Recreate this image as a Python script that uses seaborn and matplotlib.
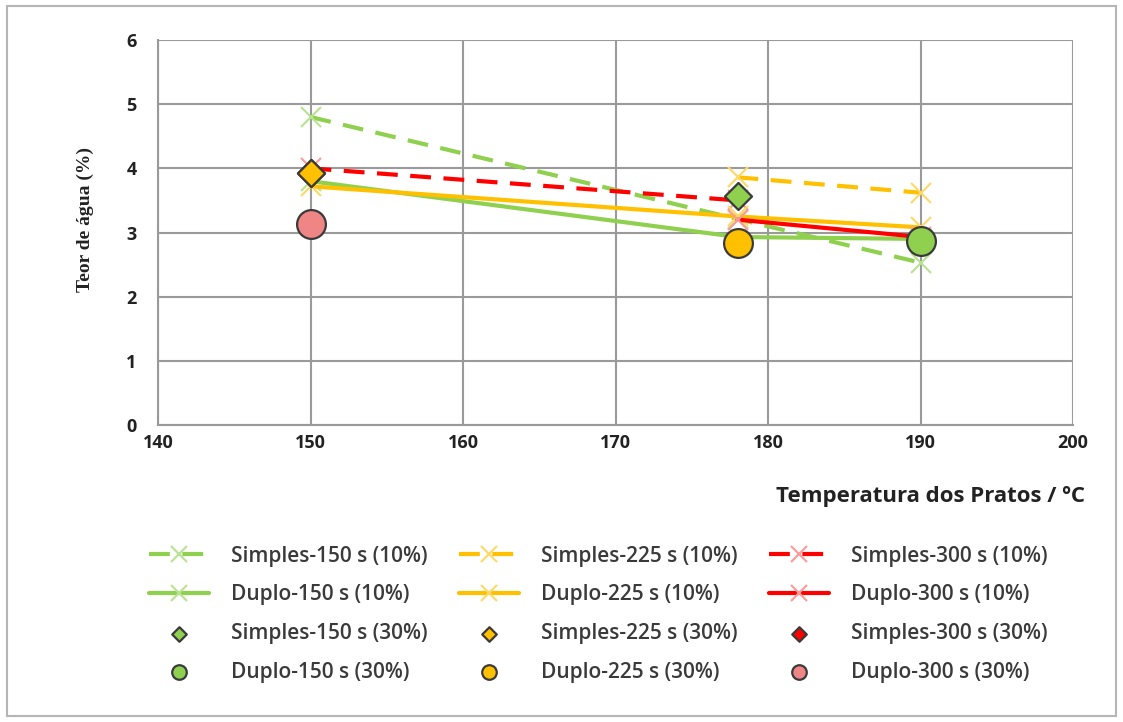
import numpy as np
import matplotlib
matplotlib.use("Agg")
import matplotlib.pyplot as plt
import seaborn as sns
from matplotlib.patches import Rectangle

# Plate temperatures (ºC)
temperaturas = [150, 178, 190]

# Water content (%) – 10% series (lines)
simples_150_10 = [4.80, 3.21, 2.53]
simples_225_10 = [np.nan, 3.86, 3.62]
simples_300_10 = [4.00, 3.50, np.nan]
duplo_150_10 = [3.80, 2.93, 2.90]
duplo_225_10 = [3.72, 3.25, 3.08]
duplo_300_10 = [np.nan, 3.20, 2.93]

# Water content (%) – 30% series (single points)
simples_150_30 = [np.nan, 3.57, np.nan]
simples_225_30 = [3.93, np.nan, np.nan]
simples_300_30 = [3.93, np.nan, np.nan]
duplo_150_30 = [np.nan, np.nan, 2.87]
duplo_225_30 = [np.nan, 2.83, np.nan]
duplo_300_30 = [3.13, np.nan, np.nan]

x_ticks = [140, 150, 160, 170, 180, 190, 200]
y_ticks = [0, 1, 2, 3, 4, 5, 6]

GREEN, ORANGE, RED = "#8fd14f", "#ffc000", "#ff0000"
GREEN_X, ORANGE_X, RED_X = "#b9e291", "#ffd966", "#ff9a9a"

sns.set_style("white")
plt.rcParams["font.family"] = ["Open Sans", "DejaVu Sans"]

fig = plt.figure(figsize=(11.23, 7.22), dpi=100)
ax = fig.add_axes([158 / 1123, 1 - 425 / 722, 915 / 1123, 385 / 722])

def valid(vals):
    v = np.asarray(vals, dtype=float)
    m = ~np.isnan(v)
    return np.asarray(temperaturas)[m], v[m]

dash = (0, (5, 3))
line_series = [
    ("Simples-150 s (10%)", simples_150_10, GREEN, GREEN_X, dash),
    ("Simples-225 s (10%)", simples_225_10, ORANGE, ORANGE_X, dash),
    ("Simples-300 s (10%)", simples_300_10, RED, RED_X, dash),
    ("Duplo-150 s (10%)", duplo_150_10, GREEN, GREEN_X, "-"),
    ("Duplo-225 s (10%)", duplo_225_10, ORANGE, ORANGE_X, "-"),
    ("Duplo-300 s (10%)", duplo_300_10, RED, RED_X, "-"),
]
for lbl, vals, col, xcol, ls in line_series:
    xs, ys = valid(vals)
    sns.lineplot(x=xs, y=ys, ax=ax, color=col, lw=3, linestyle=ls,
                 marker="x", markersize=15, markeredgecolor=xcol,
                 markeredgewidth=1.5, label=lbl, zorder=3)

point_series = [
    ("Simples-150 s (30%)", simples_150_30, "D", GREEN, 190),
    ("Simples-300 s (30%)", simples_300_30, "D", RED, 190),
    ("Simples-225 s (30%)", simples_225_30, "D", ORANGE, 190),
    ("Duplo-150 s (30%)", duplo_150_30, "o", GREEN, 430),
    ("Duplo-225 s (30%)", duplo_225_30, "o", ORANGE, 430),
    ("Duplo-300 s (30%)", duplo_300_30, "o", "#f08585", 430),
]
for lbl, vals, mk, col, size in point_series:
    xs, ys = valid(vals)
    sns.scatterplot(x=xs, y=ys, ax=ax, marker=mk, s=size, color=col,
                    edgecolor="#3a3a3a", linewidth=1.6, label=lbl, zorder=5)

ax.set_xlim(140, 200)
ax.set_ylim(0, 6)
ax.set_xticks(x_ticks)
ax.set_yticks(y_ticks)
ax.grid(True, color="#9a9a9a", lw=1.5)
ax.set_axisbelow(True)
for side in ["top", "right"]:
    ax.spines[side].set_visible(False)
for side in ["left", "bottom"]:
    ax.spines[side].set_color("#9a9a9a")
    ax.spines[side].set_linewidth(1.5)
ax.tick_params(axis="both", direction="out", length=4.5, width=1.5,
               color="#9a9a9a", labelsize=13, labelcolor="#222222")
ax.tick_params(axis="x", pad=2)
ax.tick_params(axis="y", pad=11)
for t in ax.get_xticklabels() + ax.get_yticklabels():
    t.set_fontweight("bold")

ax.set_ylabel("Teor de água (%)", family=["Liberation Serif"], fontsize=14,
              fontweight="bold", color="#222222")
ax.yaxis.set_label_coords(-0.070, 0.535)
ax.set_xlabel("Temperatura dos Pratos / ºC", fontsize=16, fontweight="bold",
              color="#222222")
ax.xaxis.set_label_coords(1.013, -0.187)
ax.xaxis.label.set_ha("right")
ax.xaxis.label.set_va("center")

# Legend: three columns (150 s, 225 s, 300 s), four rows
handles, labels = ax.get_legend_handles_labels()
lookup = dict(zip(labels, handles))
order = []
for t in ["150", "225", "300"]:
    order += [f"Simples-{t} s (10%)", f"Duplo-{t} s (10%)",
              f"Simples-{t} s (30%)", f"Duplo-{t} s (30%)"]
if ax.get_legend() is not None:
    ax.get_legend().remove()
leg = fig.legend([lookup[k] for k in order], order, ncol=3, loc="upper left",
                 bbox_to_anchor=(130 / 1123, 1 - 527 / 722), frameon=False,
                 prop={"size": 15, "weight": "semibold"},
                 handlelength=2.9, handletextpad=1.05,
                 columnspacing=1.5, labelspacing=0.85)
for h, k in zip(leg.legend_handles, order):
    if "(30%)" in k:
        h.set_sizes([55] if k.startswith("Simples") else [110])
    else:
        h.set_markersize(12)
for t in leg.get_texts():
    t.set_color("#3a3a3a")

fig.patches.append(Rectangle((7 / 1123, 6 / 722), 1109 / 1123, 710 / 722,
                             transform=fig.transFigure, fill=False,
                             edgecolor="#b5b5b5", lw=1.5))

fig.savefig("out.png", dpi=100)
